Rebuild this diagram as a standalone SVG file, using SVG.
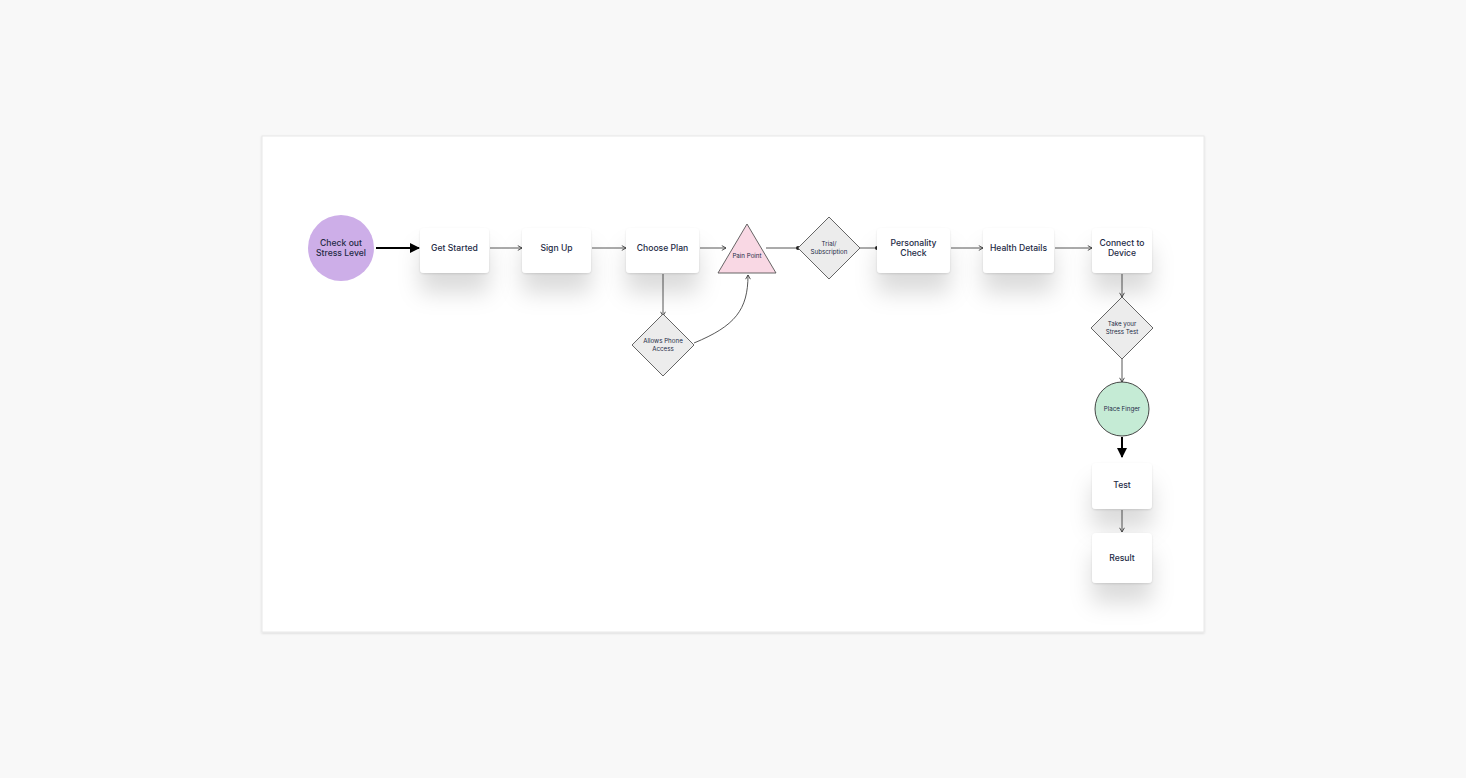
<svg xmlns="http://www.w3.org/2000/svg" width="1466" height="778" viewBox="0 0 1466 778">
<defs>
<filter id="sh" x="-80%" y="-60%" width="260%" height="300%">
<feDropShadow dx="0" dy="1" stdDeviation="0.8" flood-color="#000" flood-opacity="0.12" result="a"/>
<feGaussianBlur in="SourceAlpha" stdDeviation="11"/>
<feOffset dy="20" result="b"/>
<feFlood flood-color="#000" flood-opacity="0.14"/>
<feComposite in2="b" operator="in" result="c"/>
<feMerge><feMergeNode in="c"/><feMergeNode in="a"/></feMerge>
</filter>
<filter id="sh2" x="-10%" y="-10%" width="120%" height="130%">
<feDropShadow dx="0" dy="1" stdDeviation="1" flood-color="#000" flood-opacity="0.12"/>
</filter>
<marker id="open" viewBox="0 0 10 10" refX="9" refY="5" markerWidth="6" markerHeight="6" orient="auto" markerUnits="userSpaceOnUse">
<path d="M2,1 L9,5 L2,9" fill="none" stroke="#333" stroke-width="1.4"/>
</marker>
<marker id="solid" viewBox="0 0 10 10" refX="9" refY="5" markerWidth="10" markerHeight="10" orient="auto" markerUnits="userSpaceOnUse">
<path d="M0,0 L10,5 L0,10 z" fill="#000"/>
</marker>
<marker id="dot" viewBox="0 0 6 6" refX="3" refY="3" markerWidth="4" markerHeight="4" orient="auto" markerUnits="userSpaceOnUse">
<circle cx="3" cy="3" r="3" fill="#222"/>
</marker>
</defs>
<style>
.box{fill:#fff;filter:url(#sh)}
.t{font-family:"Inter","Liberation Sans",sans-serif;font-size:8.6px;fill:#232a45;text-anchor:middle;font-weight:500}
.s{font-family:"Inter","Liberation Sans",sans-serif;font-size:6.2px;fill:#232a45;text-anchor:middle}
.dia{fill:#ececec;stroke:#555;stroke-width:0.9}
.c{fill:none;stroke:#444;stroke-width:0.9}
.thick{fill:none;stroke:#000;stroke-width:2}
</style>
<rect width="1466" height="778" fill="#f8f8f8"/>
<rect x="262" y="136" width="942" height="496" fill="#fff" stroke="#e8e8e8" stroke-width="1" filter="url(#sh2)"/>

<g id="connectors">
<path class="thick" d="M376,248 L419,248" marker-end="url(#solid)"/>
<path class="c" d="M490,248 L522,248" marker-end="url(#open)"/>
<path class="c" d="M592,248 L626,248" marker-end="url(#open)"/>
<path class="c" d="M700,248 L726,248" marker-end="url(#open)"/>
<path class="c" d="M766,248 L798,248" marker-end="url(#dot)"/>
<path class="c" d="M860,248 L877,248" marker-end="url(#dot)"/>
<path class="c" d="M951,248 L983,248" marker-end="url(#open)"/>
<path class="c" d="M1055,248 L1092,248" marker-end="url(#open)"/>
<path class="c" d="M663,274 L663,316" marker-end="url(#open)"/>
<path class="c" d="M694,343 C735,326 748,310 748,275" marker-end="url(#open)"/>
<path class="c" d="M1122,274 L1122,297" marker-end="url(#open)"/>
<path class="c" d="M1122,359 L1122,382" marker-end="url(#open)"/>
<path class="thick" d="M1122,437 L1122,457" marker-end="url(#solid)"/>
<path class="c" d="M1122,510 L1122,532" marker-end="url(#open)"/>
</g>

<g id="n-check">
<circle cx="341" cy="248" r="33" fill="#cdaee8"/>
<text class="t" x="341" y="246">Check out</text>
<text class="t" x="341" y="256">Stress Level</text>
</g>
<g id="n-getstarted">
<rect class="box" x="420" y="228" width="69" height="45" rx="4"/>
<text class="t" x="454.5" y="251">Get Started</text>
</g>
<g id="n-signup">
<rect class="box" x="522" y="228" width="69" height="45" rx="4"/>
<text class="t" x="556.5" y="251">Sign Up</text>
</g>
<g id="n-chooseplan">
<rect class="box" x="626" y="228" width="73" height="45" rx="4"/>
<text class="t" x="662.5" y="251">Choose Plan</text>
</g>
<g id="n-painpoint">
<polygon points="747,224 776,273 718,273" fill="#f9d8e4" stroke="#555" stroke-width="0.9"/>
<text class="s" x="747" y="258">Pain Point</text>
</g>
<g id="n-trial">
<polygon class="dia" points="829,217 860,248 829,279 798,248"/>
<text class="s" x="829" y="246">Trial/</text>
<text class="s" x="829" y="253.5">Subscription</text>
</g>
<g id="n-allows">
<polygon class="dia" points="663,314 694,345 663,376 632,345"/>
<text class="s" x="663" y="343">Allows Phone</text>
<text class="s" x="663" y="350.5">Access</text>
</g>
<g id="n-personality">
<rect class="box" x="877" y="228" width="73" height="45" rx="4"/>
<text class="t" x="913.5" y="246">Personality</text>
<text class="t" x="913.5" y="256">Check</text>
</g>
<g id="n-health">
<rect class="box" x="983" y="228" width="71" height="45" rx="4"/>
<text class="t" x="1018.5" y="251">Health Details</text>
</g>
<g id="n-connect">
<rect class="box" x="1092" y="228" width="60" height="45" rx="4"/>
<text class="t" x="1122" y="246">Connect to</text>
<text class="t" x="1122" y="256">Device</text>
</g>
<g id="n-take">
<polygon class="dia" points="1122,297 1153,328 1122,359 1091,328"/>
<text class="s" x="1122" y="326">Take your</text>
<text class="s" x="1122" y="333.5">Stress Test</text>
</g>
<g id="n-place">
<circle cx="1122" cy="409" r="27" fill="#c5ebd5" stroke="#333" stroke-width="0.9"/>
<text class="s" x="1122" y="411">Place Finger</text>
</g>
<g id="n-test">
<rect class="box" x="1092" y="463" width="60" height="46" rx="4"/>
<text class="t" x="1122" y="487.5">Test</text>
</g>
<g id="n-result">
<rect class="box" x="1092" y="533" width="60" height="50" rx="4"/>
<text class="t" x="1122" y="560.5">Result</text>
</g>
</svg>
